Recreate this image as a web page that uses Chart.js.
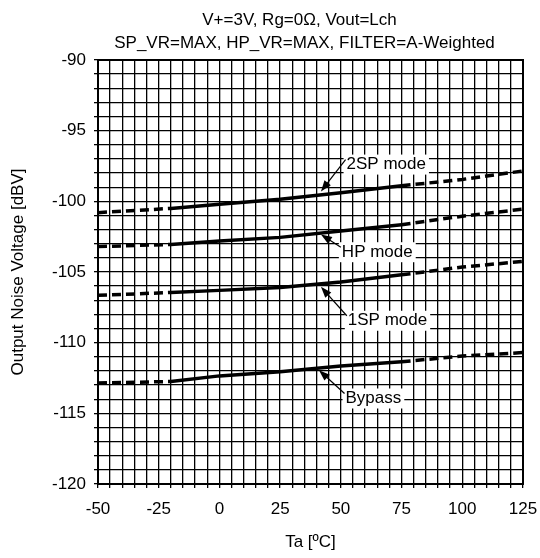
<!DOCTYPE html>
<html>
<head>
<meta charset="utf-8">
<script src="https://cdn.jsdelivr.net/npm/chart.js@4"></script>
<style>
  body { margin: 0; background: #fff; }
  canvas { display: block; }
</style>
</head>
<body>
<canvas id="c" width="540" height="558"></canvas>
<script>
// temperatures [°C]
var temps = [-50, -20, 0, 25, 50, 75, 100, 125];
// output noise [dBV] per mode
var sp2 = [-100.8, -100.5, -100.2, -99.85, -99.4, -98.9, -98.45, -97.85];
var hp = [-103.2, -103.05, -102.8, -102.55, -102.1, -101.65, -101.05, -100.55];
var sp1 = [-106.65, -106.45, -106.3, -106.1, -105.7, -105.2, -104.65, -104.25];
var bypass = [-112.85, -112.75, -112.35, -112.05, -111.65, -111.35, -110.95, -110.7];
// solid part of each curve (guaranteed range)
var solidFrom = -20, solidTo = 75;

var titleLines = ['V+=3V, Rg=0Ω, Vout=Lch', 'SP_VR=MAX, HP_VR=MAX, FILTER=A-Weighted'];
// callouts: text, label centre (T, dBV), arrow tip (T, dBV)
var noteText = ['2SP mode', 'HP mode', '1SP mode', 'Bypass'];
var noteAt = [[68.7, -97.4], [65, -103.6], [69.2, -108.45], [63.4, -113.95]];
var noteTip = [[41.8, -99.3], [41.8, -102.35], [41.8, -106.05], [41, -111.95]];

var FONT = '"Liberation Sans", Arial, sans-serif';
Chart.defaults.font.family = FONT;
Chart.defaults.font.size = 17;
Chart.defaults.color = '#000';

function pts(vals) {
  return temps.map((t, i) => ({ x: t, y: vals[i] }));
}

function curve(vals) {
  return {
    data: pts(vals),
    borderColor: '#000',
    borderWidth: 3.5,
    pointRadius: 0,
    tension: 0,
    segment: {
      borderDash: ctx => (ctx.p0.parsed.x < solidFrom || ctx.p0.parsed.x >= solidTo) ? [9, 5] : []
    }
  };
}

var frame = {
  id: 'frame',
  beforeDatasetsDraw(chart) {
    var a = chart.chartArea, c = chart.ctx;
    c.save();
    c.strokeStyle = '#000';
    c.lineWidth = 2;
    c.strokeRect(a.left, a.top, a.right - a.left, a.bottom - a.top);
    c.restore();
  }
};

var notes = {
  id: 'notes',
  afterDraw(chart) {
    var c = chart.ctx, x = chart.scales.x, y = chart.scales.y;
    var a = chart.chartArea;
    c.save();
    c.font = '17px ' + FONT;
    c.fillStyle = '#000';
    c.textAlign = 'center';
    c.textBaseline = 'middle';
    c.fillText(titleLines[0], (a.left + a.right) / 2 - 11, 20);
    c.fillText(titleLines[1], (a.left + a.right) / 2 - 6, 43);

    noteText.forEach((txt, i) => {
      var cx = x.getPixelForValue(noteAt[i][0]);
      var cy = y.getPixelForValue(noteAt[i][1]);
      var w = c.measureText(txt).width;
      var left = cx - w / 2;
      c.fillStyle = '#fff';
      c.fillRect(left - 3, cy - 10, w + 6, 20);
      c.fillStyle = '#000';
      c.fillText(txt, cx, cy);
      // arrow
      var tx = x.getPixelForValue(noteTip[i][0]);
      var ty = y.getPixelForValue(noteTip[i][1]);
      var sx = left - 1, sy = cy - 5;
      var ang = Math.atan2(ty - sy, tx - sx);
      c.strokeStyle = '#000';
      c.lineWidth = 1.2;
      c.beginPath();
      c.moveTo(sx, sy);
      c.lineTo(tx - 6 * Math.cos(ang), ty - 6 * Math.sin(ang));
      c.stroke();
      c.beginPath();
      c.moveTo(tx, ty);
      c.lineTo(tx - 11 * Math.cos(ang) + 4 * Math.sin(ang), ty - 11 * Math.sin(ang) - 4 * Math.cos(ang));
      c.lineTo(tx - 11 * Math.cos(ang) - 4 * Math.sin(ang), ty - 11 * Math.sin(ang) + 4 * Math.cos(ang));
      c.closePath();
      c.fill();
    });
    c.restore();
  }
};

new Chart(document.getElementById('c'), {
  type: 'line',
  data: {
    datasets: [curve(sp2), curve(hp), curve(sp1), curve(bypass)]
  },
  options: {
    responsive: false,
    animation: false,
    layout: { padding: { top: 60, right: 17, left: 0, bottom: 0 } },
    plugins: { legend: { display: false }, tooltip: { enabled: false } },
    scales: {
      x: {
        type: 'linear',
        min: -50,
        max: 125,
        afterFit(s) { s.height = 74; s.paddingLeft = 0; s.paddingRight = 0; },
        ticks: {
          stepSize: 5,
          autoSkip: false,
          maxRotation: 0,
          padding: 11,
          callback: v => (v % 25 === 0 ? v : '')
        },
        grid: { color: '#000', lineWidth: 1.3, tickLength: 4 },
        border: { color: '#000', width: 2 },
        title: { display: true, text: 'Ta [ºC]', padding: { top: 0, bottom: 5 } }
      },
      y: {
        min: -120,
        max: -90,
        afterFit(s) { s.width = 98; s.paddingTop = 0; s.paddingBottom = 0; },
        ticks: {
          stepSize: 1,
          autoSkip: false,
          padding: 8,
          callback: v => (v % 5 === 0 ? v : '')
        },
        grid: { color: '#000', lineWidth: 1.3, tickLength: 4 },
        border: { color: '#000', width: 2 },
        title: { display: true, text: 'Output Noise Voltage [dBV]', padding: { top: 8, bottom: 0 } }
      }
    }
  },
  plugins: [frame, notes]
});
</script>
</body>
</html>
